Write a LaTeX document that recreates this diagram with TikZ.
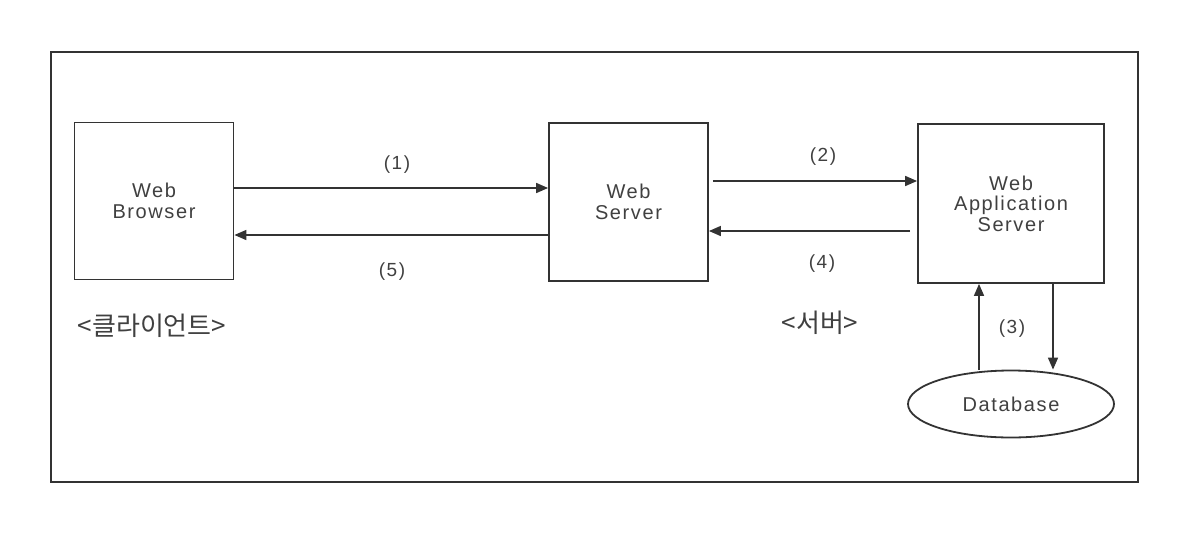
\documentclass[tikz,border=0pt]{standalone}
\usepackage{fontspec}
\setmainfont{Liberation Sans}
\newfontfamily\widefont[LetterSpace=8]{Liberation Sans}
\newfontfamily\krfont{Noto Sans CJK KR}
\usetikzlibrary{arrows.meta,shapes.geometric}
\definecolor{myline}{gray}{0.2}
\definecolor{mytext}{gray}{0.25}

\begin{document}
\begin{tikzpicture}[x=0.5pt,y=-0.5pt,
  box/.style={draw=myline,line width=0.9pt,inner sep=0pt,align=center,text=mytext,
    font=\widefont\fontsize{10}{10.3}\selectfont},
  lbl/.style={text=mytext,font=\widefont\fontsize{9.5}{10}\selectfont},
  kr/.style={text=mytext,font=\krfont\fontsize{13}{15}\selectfont},
  arr/.style={draw=myline,line width=0.8pt,-{Triangle[length=6pt,width=5pt]}}]
\useasboundingbox (0,0) rectangle (1192,546);
\draw[myline,line width=0.9pt] (51,52) rectangle (1138,482);
\node[box,minimum width=79.5pt,minimum height=78.5pt] (browser) at (154,201) {Web\\Browser};
\node[box,minimum width=79.5pt,minimum height=79pt] (server) at (628.5,202) {Web\\Server};
\node[box,minimum width=93pt,minimum height=79.5pt] (was) at (1011,203.5) {Web\\Application\\Server};
\node[box,ellipse,minimum width=103pt,minimum height=33.5pt] (db) at (1011,404) {Database};
\node[lbl] (l1) at (397,165) {(1)};
\node[lbl] (l5) at (392,272) {(5)};
\node[lbl] (l2) at (823,157) {(2)};
\node[lbl] (l4) at (822,264) {(4)};
\node[lbl] (l3) at (1012,329) {(3)};
\node[kr] (client) at (152,326) {<클라이언트>};
\node[kr] (srv) at (820,323) {<서버>};
% draw the arrows
\draw[arr] (browser.east |- 0,188) -- (server.west |- 0,188);
\draw[arr] (server.west |- 0,235) -- (browser.east |- 0,235);
\draw[arr] ([xshift=2pt]server.east |- 0,181) -- (was.west |- 0,181);
\draw[arr] ([xshift=-3.5pt]was.west |- 0,231) -- (server.east |- 0,231);
\draw[arr] ([xshift=-16pt]db.north) -- ([xshift=-16pt]was.south);
\draw[arr] ([xshift=21pt]was.south) -- ([xshift=21pt]db.north);
\end{tikzpicture}
\end{document}
